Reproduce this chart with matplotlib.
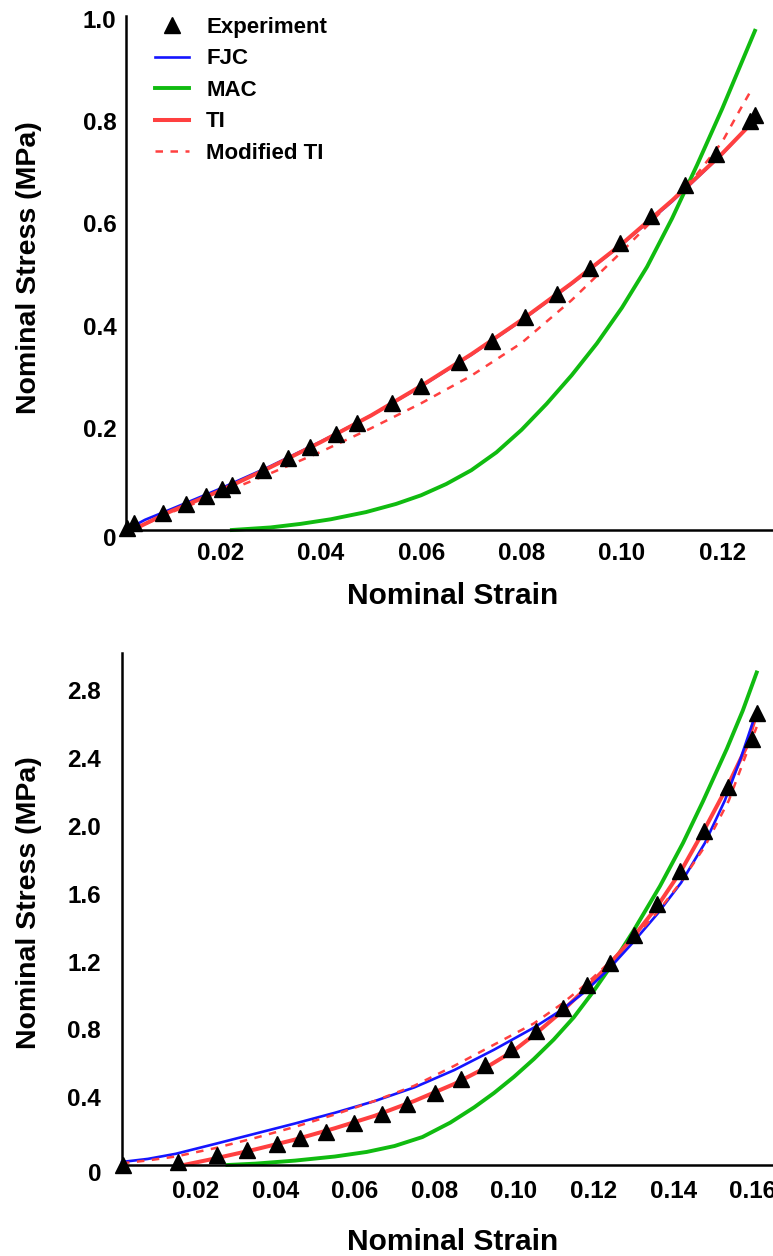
import matplotlib
matplotlib.use("Agg")
import matplotlib.pyplot as plt
from matplotlib.ticker import FixedLocator, FixedFormatter
from matplotlib.transforms import ScaledTranslation

plt.rcParams['font.family'] = ['Liberation Sans', 'DejaVu Sans']
plt.rcParams['font.weight'] = 'bold'

# ---------------- Upper panel: stress-strain data ----------------
exp1_strain = [0.0014, 0.0028, 0.0086, 0.0131, 0.0171, 0.0203, 0.0223, 0.0285,
               0.0335, 0.0378, 0.0430, 0.0472, 0.0542, 0.0600, 0.0675, 0.0741,
               0.0807, 0.0870, 0.0936, 0.0996, 0.1058, 0.1125, 0.1187, 0.1255,
               0.1265]
exp1_stress = [0.004, 0.014, 0.033, 0.051, 0.066, 0.080, 0.088, 0.117,
               0.141, 0.162, 0.188, 0.209, 0.248, 0.281, 0.328, 0.369,
               0.416, 0.461, 0.512, 0.561, 0.615, 0.676, 0.736, 0.801,
               0.813]

fjc1_strain = [0.0012, 0.005, 0.010, 0.020, 0.030, 0.040, 0.050, 0.060, 0.070,
               0.080, 0.090, 0.100, 0.110, 0.120, 0.1262]
fjc1_stress = [0.000, 0.020, 0.040, 0.081, 0.125, 0.173, 0.224, 0.281, 0.343,
               0.410, 0.482, 0.559, 0.643, 0.736, 0.800]

mac1_strain = [0.0223, 0.030, 0.036, 0.042, 0.049, 0.055, 0.060, 0.065, 0.070,
               0.075, 0.080, 0.085, 0.090, 0.095, 0.100, 0.105, 0.110, 0.115,
               0.120, 0.1265]
mac1_stress = [0.000, 0.005, 0.012, 0.021, 0.035, 0.051, 0.068, 0.090, 0.117,
               0.152, 0.196, 0.247, 0.303, 0.365, 0.435, 0.515, 0.610, 0.715,
               0.825, 0.977]

ti1_strain = [0.0025, 0.010, 0.020, 0.030, 0.040, 0.050, 0.060, 0.070, 0.080,
              0.090, 0.100, 0.110, 0.120, 0.1262]
ti1_stress = [0.000, 0.036, 0.077, 0.123, 0.172, 0.224, 0.282, 0.344, 0.411,
              0.483, 0.560, 0.645, 0.737, 0.800]

mti1_strain = [0.0025, 0.010, 0.020, 0.030, 0.040, 0.050, 0.060, 0.070, 0.080,
               0.090, 0.100, 0.105, 0.110, 0.115, 0.120, 0.1235, 0.126]
mti1_stress = [0.000, 0.034, 0.071, 0.111, 0.153, 0.199, 0.248, 0.302, 0.366,
               0.450, 0.545, 0.595, 0.645, 0.697, 0.760, 0.822, 0.865]

# ---------------- Lower panel: stress-strain data ----------------
exp2_strain = [0.0018, 0.0156, 0.0254, 0.0329, 0.0405, 0.0462, 0.0528, 0.0598,
               0.0668, 0.0731, 0.0802, 0.0867, 0.0927, 0.0992, 0.1055, 0.1123,
               0.1183, 0.1241, 0.1302, 0.1359, 0.1417, 0.1477, 0.1538, 0.1598,
               0.1611]
exp2_stress = [0.000, 0.018, 0.059, 0.088, 0.124, 0.159, 0.195, 0.248,
               0.301, 0.360, 0.425, 0.507, 0.590, 0.684, 0.791, 0.926,
               1.062, 1.192, 1.357, 1.540, 1.735, 1.971, 2.230, 2.513,
               2.667]

fjc2_strain = [0.0015, 0.008, 0.015, 0.025, 0.035, 0.045, 0.055, 0.065, 0.075,
               0.085, 0.095, 0.105, 0.112, 0.118, 0.124, 0.130, 0.136, 0.142,
               0.148, 0.153, 0.157, 0.1603]
fjc2_stress = [0.018, 0.036, 0.066, 0.125, 0.185, 0.245, 0.308, 0.377, 0.458,
               0.560, 0.680, 0.810, 0.915, 1.025, 1.160, 1.315, 1.480, 1.665,
               1.900, 2.150, 2.400, 2.630]

mac2_strain = [0.028, 0.035, 0.045, 0.055, 0.063, 0.070, 0.077, 0.084, 0.090,
               0.095, 0.100, 0.105, 0.110, 0.115, 0.120, 0.125, 0.130, 0.1367,
               0.1425, 0.1475, 0.1535, 0.1575, 0.161]
mac2_stress = [0.000, 0.008, 0.026, 0.050, 0.077, 0.112, 0.165, 0.250, 0.340,
               0.425, 0.520, 0.625, 0.740, 0.870, 1.025, 1.195, 1.380, 1.645,
               1.900, 2.145, 2.455, 2.680, 2.905]

ti2_strain = [0.017, 0.025, 0.035, 0.045, 0.055, 0.065, 0.075, 0.085, 0.093,
              0.100, 0.106, 0.112, 0.118, 0.124, 0.130, 0.136, 0.142, 0.148,
              0.154, 0.1585, 0.1606]
ti2_stress = [0.000, 0.039, 0.092, 0.150, 0.217, 0.290, 0.378, 0.478, 0.575,
              0.675, 0.785, 0.905, 1.040, 1.185, 1.345, 1.525, 1.735, 1.985,
              2.250, 2.470, 2.637]

mti2_strain = [0.0015, 0.008, 0.015, 0.025, 0.035, 0.045, 0.055, 0.065, 0.075,
               0.085, 0.095, 0.105, 0.112, 0.118, 0.124, 0.130, 0.136, 0.142,
               0.148, 0.154, 0.158, 0.161]
mti2_stress = [0.010, 0.027, 0.050, 0.100, 0.160, 0.225, 0.298, 0.378, 0.468,
               0.585, 0.710, 0.835, 0.950, 1.065, 1.195, 1.335, 1.490, 1.670,
               1.880, 2.150, 2.400, 2.584]

# ---------------- Axis ticks ----------------
x1_ticks = [0.02, 0.04, 0.06, 0.08, 0.10, 0.12]
x1_labels = ['0.02', '0.04', '0.06', '0.08', '0.10', '0.12']
y1_ticks = [0, 0.2, 0.4, 0.6, 0.8, 1.0]
y1_labels = ['0', '0.2', '0.4', '0.6', '0.8', '1.0']

x2_ticks = [0.02, 0.04, 0.06, 0.08, 0.10, 0.12, 0.14, 0.16]
x2_labels = ['0.02', '0.04', '0.06', '0.08', '0.10', '0.12', '0.14', '0.16']
y2_ticks = [0, 0.4, 0.8, 1.2, 1.6, 2.0, 2.4, 2.8]
y2_labels = ['0', '0.4', '0.8', '1.2', '1.6', '2.0', '2.4', '2.8']

BLUE = '#1515ff'
GREEN = '#10bb10'
RED = '#ff4040'

W, H = 773, 1256
fig = plt.figure(figsize=(W / 100, H / 100), dpi=100)


def px_axes(left, top, right, bottom):
    return fig.add_axes([left / W, 1 - bottom / H, (right - left) / W, (bottom - top) / H])


def style_axes(ax, xt, xl, yt, yl, ypad, xpad):
    for side in ('top', 'right'):
        ax.spines[side].set_visible(False)
    for side in ('left', 'bottom'):
        ax.spines[side].set_linewidth(1.8)
        ax.spines[side].set_color('black')
    ax.xaxis.set_major_locator(FixedLocator(xt))
    ax.xaxis.set_major_formatter(FixedFormatter(xl))
    ax.yaxis.set_major_locator(FixedLocator(yt))
    ax.yaxis.set_major_formatter(FixedFormatter(yl))
    ax.tick_params(length=0, labelsize=17.5)
    ax.tick_params(axis='y', pad=ypad)
    ax.tick_params(axis='x', pad=xpad)
    for lbl in ax.get_xticklabels() + ax.get_yticklabels():
        lbl.set_fontweight('bold')
    # the zero label sits a little below the axis line
    zero = ax.get_yticklabels()[0]
    zero.set_transform(zero.get_transform() + ScaledTranslation(0, -7 / 100, fig.dpi_scale_trans))


# ---------------- Upper panel ----------------
ax1 = px_axes(126, 16, 773, 530)
ax1.plot(fjc1_strain, fjc1_stress, color=BLUE, lw=1.9, label='FJC', zorder=2)
ax1.plot(mac1_strain, mac1_stress, color=GREEN, lw=2.8, label='MAC', zorder=2)
ax1.plot(ti1_strain, ti1_stress, color=RED, lw=2.9, label='TI', zorder=3)
ax1.plot(mti1_strain, mti1_stress, color=RED, lw=1.8, ls=(0, (3, 3)),
         label='Modified TI', zorder=3)
ax1.plot(exp1_strain, exp1_stress, ls='none', marker='^', ms=11, color='black',
         label='Experiment', zorder=5)
ax1.set_xlim(0.0012, 0.1301)
ax1.set_ylim(0, 1.006)
style_axes(ax1, x1_ticks, x1_labels, y1_ticks, y1_labels, ypad=7, xpad=9)
ax1.set_xlabel('Nominal Strain', fontsize=21.5, fontweight='bold')
ax1.set_ylabel('Nominal Stress (MPa)', fontsize=20.5, fontweight='bold')
ax1.xaxis.label.set_va('baseline')
ax1.xaxis.set_label_coords(453 / W, 1 - 604 / H, transform=fig.transFigure)
ax1.yaxis.set_label_coords(42 / W, 1 - 268 / H, transform=fig.transFigure)

handles, labels = ax1.get_legend_handles_labels()
order = [4, 0, 1, 2, 3]
ax1.legend([handles[i] for i in order], [labels[i] for i in order],
           loc='upper left', bbox_to_anchor=(155 / W, 1 - 17 / H),
           bbox_transform=fig.transFigure, frameon=False,
           prop={'weight': 'bold', 'size': 16}, borderpad=0, borderaxespad=0,
           handlelength=1.55, handletextpad=0.75, labelspacing=0.47, numpoints=1)

# ---------------- Lower panel ----------------
ax2 = px_axes(122, 653, 773, 1165)
ax2.plot(mac2_strain, mac2_stress, color=GREEN, lw=2.8, zorder=2)
ax2.plot(ti2_strain, ti2_stress, color=RED, lw=2.9, zorder=2)
ax2.plot(fjc2_strain, fjc2_stress, color=BLUE, lw=1.9, zorder=3)
ax2.plot(mti2_strain, mti2_stress, color=RED, lw=1.8, ls=(0, (3, 3)), zorder=3)
ax2.plot(exp2_strain, exp2_stress, ls='none', marker='^', ms=11, color='black',
         zorder=5)
ax2.set_xlim(0.0015, 0.1651)
ax2.set_ylim(0, 3.02)
style_axes(ax2, x2_ticks, x2_labels, y2_ticks, y2_labels, ypad=15, xpad=11)
ax2.set_xlabel('Nominal Strain', fontsize=21.5, fontweight='bold')
ax2.set_ylabel('Nominal Stress (MPa)', fontsize=20.5, fontweight='bold')
ax2.xaxis.label.set_va('baseline')
ax2.xaxis.set_label_coords(453 / W, 1 - 1250 / H, transform=fig.transFigure)
ax2.yaxis.set_label_coords(42 / W, 1 - 903 / H, transform=fig.transFigure)

for ax in (ax1, ax2):
    for line in ax.lines:
        line.set_clip_on(False)

fig.savefig('out.png', dpi=100)
